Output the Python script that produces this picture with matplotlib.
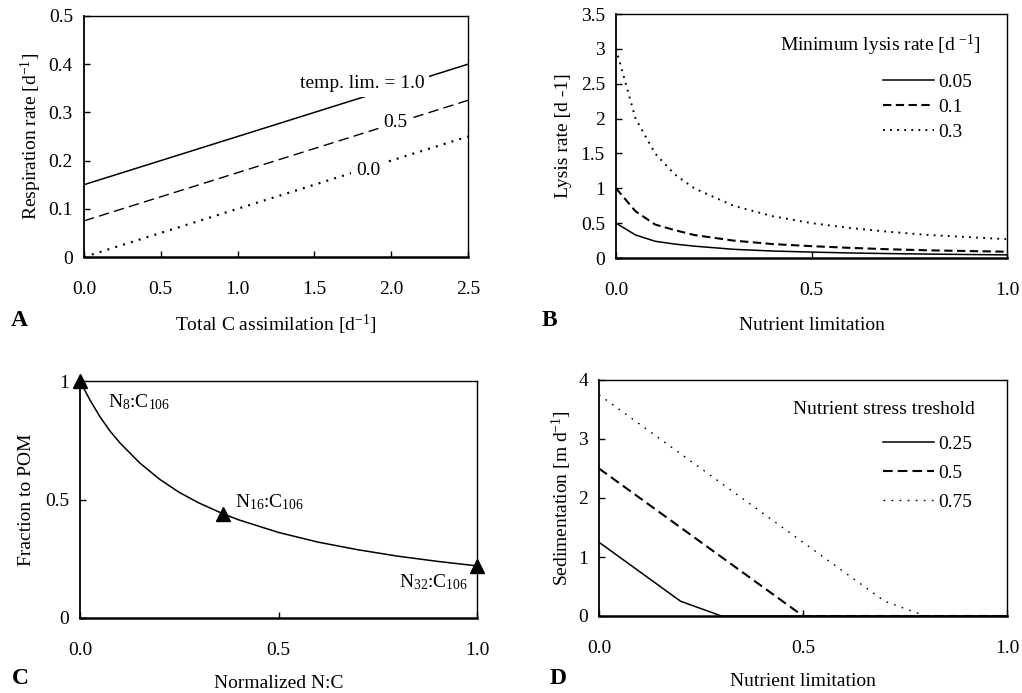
import matplotlib
matplotlib.use("Agg")
import matplotlib.pyplot as plt

plt.rcParams['font.family'] = ['Liberation Serif', 'DejaVu Serif']
plt.rcParams['mathtext.fontset'] = 'custom'
plt.rcParams['mathtext.rm'] = 'Liberation Serif'
plt.rcParams['mathtext.it'] = 'Liberation Serif:italic'
plt.rcParams['mathtext.default'] = 'regular'
plt.rcParams['lines.scale_dashes'] = False

# ---------------- data ----------------
# Panel A
assim = [0.0, 0.5, 1.0, 1.5, 2.0, 2.5]
resp_tl10 = [0.15, 0.20, 0.25, 0.30, 0.35, 0.40]
resp_tl05 = [0.075, 0.125, 0.175, 0.225, 0.275, 0.325]
resp_tl00 = [0.0, 0.05, 0.10, 0.15, 0.20, 0.25]

# Panel B
nutlim_b = [0.0, 0.05, 0.1, 0.15, 0.2, 0.3, 0.4, 0.5, 0.6, 0.7, 0.8, 0.9, 1.0]
lysis_005 = [0.5, 0.33, 0.24, 0.2, 0.17, 0.125, 0.1, 0.085, 0.072, 0.063, 0.056, 0.05, 0.045]
lysis_01 = [1.0, 0.67, 0.48, 0.4, 0.33, 0.25, 0.2, 0.17, 0.145, 0.125, 0.11, 0.1, 0.09]
lysis_03 = [3.0, 2.0, 1.5, 1.2, 1.0, 0.75, 0.6, 0.5, 0.43, 0.375, 0.33, 0.3, 0.27]
lysis_labels = ['0.05', '0.1', '0.3']

# Panel C
norm_nc = [0.0, 0.025, 0.05, 0.075, 0.1, 0.15, 0.2, 0.25, 0.3, 0.36, 0.4, 0.5, 0.6, 0.7, 0.8, 0.9, 1.0]
frac_pom = [1.0, 0.92, 0.85, 0.79, 0.74, 0.655, 0.586, 0.53, 0.485, 0.44, 0.414, 0.361, 0.32,
            0.288, 0.261, 0.239, 0.22]
marker_x = [0.0, 0.36, 1.0]
marker_y = [1.0, 0.44, 0.22]
marker_labels = ['N$_{8}$:C$_{106}$', 'N$_{16}$:C$_{106}$', 'N$_{32}$:C$_{106}$']

# Panel D
nutlim_d = [0.0, 0.1, 0.2, 0.3, 0.4, 0.5, 0.6, 0.7, 0.8, 0.9, 1.0]
sed_025 = [1.25, 0.75, 0.25, 0.0, 0.0, 0.0, 0.0, 0.0, 0.0, 0.0, 0.0]
sed_05 = [2.5, 2.0, 1.5, 1.0, 0.5, 0.0, 0.0, 0.0, 0.0, 0.0, 0.0]
sed_075 = [3.75, 3.25, 2.75, 2.25, 1.75, 1.25, 0.75, 0.25, 0.0, 0.0, 0.0]
sed_labels = ['0.25', '0.5', '0.75']

# ---------------- figure ----------------
W, H = 1022, 693
fig = plt.figure(figsize=(W / 100, H / 100), dpi=100)


def px_axes(l, t, r, b):
    return fig.add_axes([l / W, 1 - b / H, (r - l) / W, (b - t) / H])


def style(ax):
    ax.tick_params(direction='in', length=4.5, width=1.0, labelsize=14, colors='black')
    ax.tick_params(axis='x', pad=17)
    ax.tick_params(axis='y', pad=8)
    ax.spines['bottom'].set_linewidth(1.8)
    ax.spines['left'].set_linewidth(1.3)
    ax.spines['top'].set_linewidth(1.0)
    ax.spines['right'].set_linewidth(1.0)


FS = 14
solid = dict(color='black', lw=1.1, ls='-')

# Panel A
axA = px_axes(84, 16, 468, 257)
style(axA)
axA.plot(assim, resp_tl10, **solid)
axA.plot(assim, resp_tl05, color='black', lw=1.0, dashes=(7.5, 3.8))
axA.plot(assim, resp_tl00, color='black', lw=1.6, dashes=(1.4, 4.5))
axA.set_xlim(0, 2.5)
axA.set_ylim(0, 0.5)
axA.set_xticks([0, 0.5, 1.0, 1.5, 2.0, 2.5])
axA.set_xticklabels(['0.0', '0.5', '1.0', '1.5', '2.0', '2.5'])
axA.set_yticks([0, 0.1, 0.2, 0.3, 0.4, 0.5])
axA.set_yticklabels(['0', '0.1', '0.2', '0.3', '0.4', '0.5'])
box = dict(boxstyle='square,pad=0.25', fc='white', ec='none')
axA.text(1.81, 0.36, 'temp. lim. = 1.0', fontsize=FS, ha='center', va='center', bbox=box, zorder=5)
axA.text(2.03, 0.279, '0.5', fontsize=FS, ha='center', va='center', bbox=box, zorder=5)
axA.text(1.85, 0.18, '0.0', fontsize=FS, ha='center', va='center', bbox=box, zorder=5)
axA.set_xlabel('Total C assimilation [d$^{-1}$]', fontsize=FS, labelpad=11)
axA.set_ylabel('Respiration rate [d$^{-1}$]', fontsize=FS, labelpad=3)
fig.text(19 / W, 1 - 320 / H, 'A', fontsize=17, fontweight='bold', ha='center', va='center')

# Panel B
axB = px_axes(616, 14, 1007, 258)
style(axB)
lB1, = axB.plot(nutlim_b, lysis_005, **solid)
lB2, = axB.plot(nutlim_b, lysis_01, color='black', lw=1.5, dashes=(6.0, 3.2))
lB3, = axB.plot(nutlim_b, lysis_03, color='black', lw=1.4, dashes=(1.3, 3.8))
axB.set_xlim(0, 1)
axB.set_ylim(0, 3.5)
axB.set_xticks([0, 0.5, 1.0])
axB.set_xticklabels(['0.0', '0.5', '1.0'])
axB.set_yticks([0, 0.5, 1, 1.5, 2, 2.5, 3, 3.5])
axB.set_yticklabels(['0', '0.5', '1', '1.5', '2', '2.5', '3', '3.5'])
axB.set_xlabel('Nutrient limitation', fontsize=FS, labelpad=13)
axB.set_ylabel('Lysis rate [d -1]', fontsize=FS, labelpad=6)
axB.text(0.419, 0.873, 'Minimum lysis rate [d $^{-1}$]', fontsize=FS, ha='left', va='center',
         transform=axB.transAxes)
axB.legend([lB1, lB2, lB3], lysis_labels, loc='upper left', bbox_to_anchor=(0.683, 0.758),
           frameon=False, fontsize=FS, handlelength=2.6, handletextpad=0.25,
           labelspacing=0.38, borderpad=0, borderaxespad=0)
fig.text(549 / W, 1 - 320 / H, 'B', fontsize=17, fontweight='bold', ha='center', va='center')

# Panel C
axC = px_axes(80, 381, 477, 618)
style(axC)
axC.plot(norm_nc, frac_pom, **solid)
axC.plot(marker_x, marker_y, ls='none', marker='^', color='black', markersize=10, clip_on=False, zorder=6)
axC.set_xlim(0, 1)
axC.set_ylim(0, 1)
axC.set_xticks([0, 0.5, 1.0])
axC.set_xticklabels(['0.0', '0.5', '1.0'])
axC.set_yticks([0, 0.5, 1])
axC.set_yticklabels(['0', '0.5', '1'])
axC.text(0.07, 0.91, marker_labels[0], fontsize=FS, ha='left', va='center')
axC.text(0.39, 0.49, marker_labels[1], fontsize=FS, ha='left', va='center')
axC.text(0.977, 0.15, marker_labels[2], fontsize=FS, ha='right', va='center')
axC.set_xlabel('Normalized N:C', fontsize=FS, labelpad=12)
axC.set_ylabel('Fraction to POM', fontsize=FS, labelpad=7)
fig.text(20 / W, 1 - 679 / H, 'C', fontsize=17, fontweight='bold', ha='center', va='center')

# Panel D
axD = px_axes(599, 380, 1007, 616)
style(axD)
lD1, = axD.plot(nutlim_d, sed_025, **solid)
lD2, = axD.plot(nutlim_d, sed_05, color='black', lw=1.5, dashes=(7.0, 3.6))
lD3, = axD.plot(nutlim_d, sed_075, color='black', lw=1.0, dashes=(1.2, 4.6))
axD.set_xlim(0, 1)
axD.set_ylim(0, 4)
axD.set_xticks([0, 0.5, 1.0])
axD.set_xticklabels(['0.0', '0.5', '1.0'])
axD.set_yticks([0, 1, 2, 3, 4])
axD.set_yticklabels(['0', '1', '2', '3', '4'])
axD.set_xlabel('Nutrient limitation', fontsize=FS, labelpad=12)
axD.set_ylabel('Sedimentation [m d$^{-1}$]', fontsize=FS, labelpad=3)
axD.text(0.475, 0.873, 'Nutrient stress treshold', fontsize=FS, ha='left', va='center',
         transform=axD.transAxes)
axD.legend([lD1, lD2, lD3], sed_labels, loc='upper left', bbox_to_anchor=(0.696, 0.765),
           frameon=False, fontsize=FS, handlelength=2.6, handletextpad=0.25,
           labelspacing=0.58, borderpad=0, borderaxespad=0)
fig.text(558 / W, 1 - 678 / H, 'D', fontsize=17, fontweight='bold', ha='center', va='center')

fig.savefig('out.png', dpi=100)
